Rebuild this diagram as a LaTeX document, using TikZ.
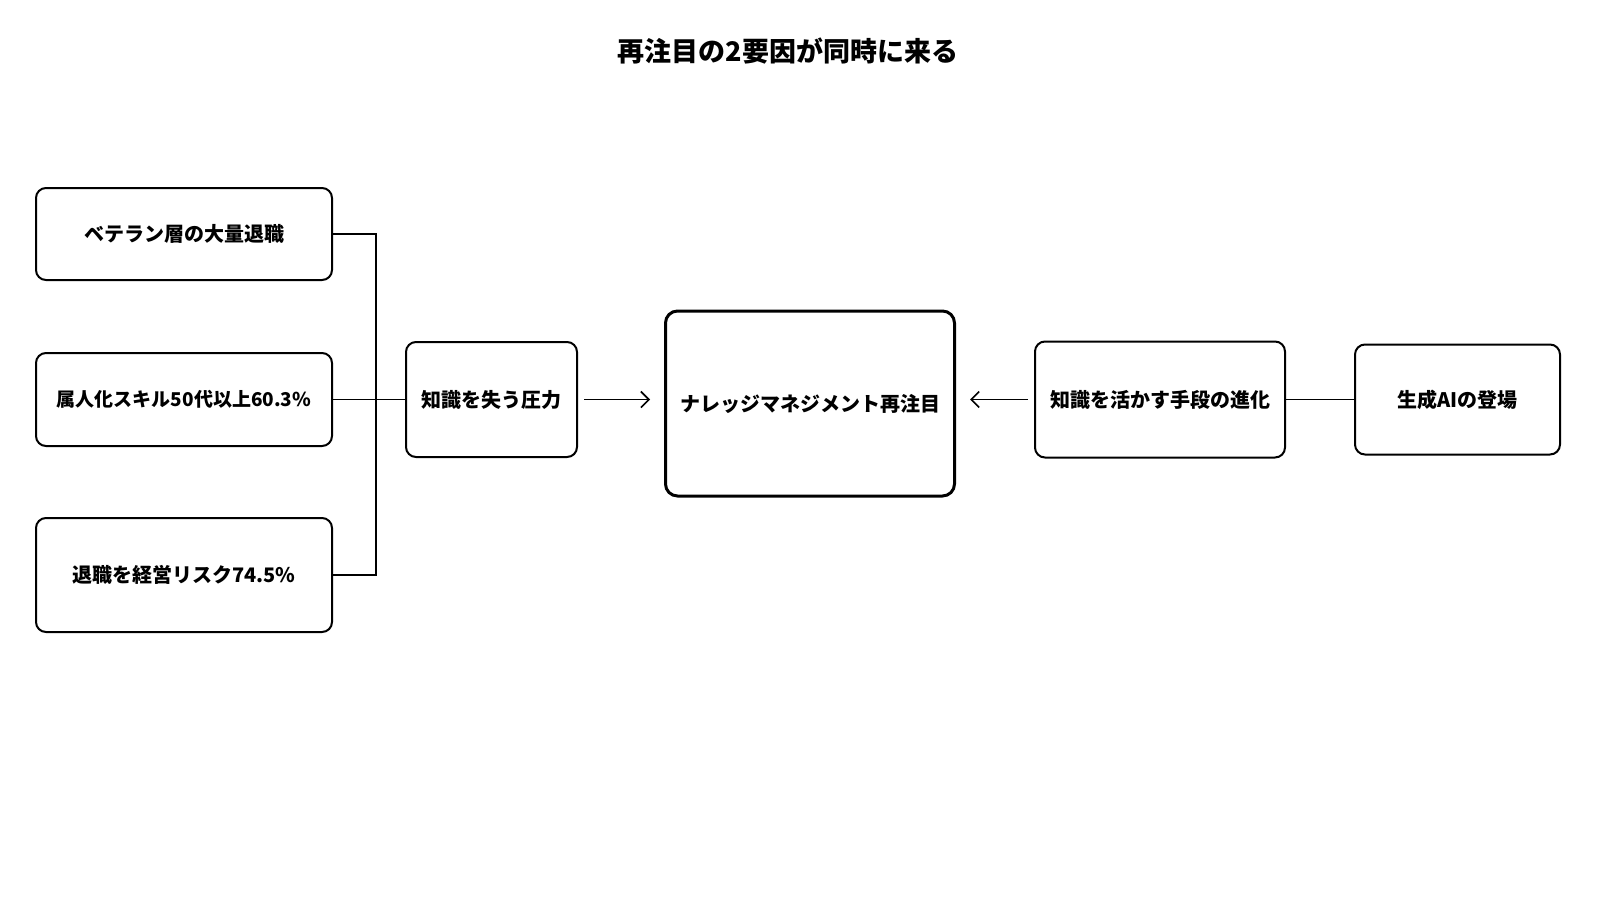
\documentclass[tikz,border=0pt]{standalone}
\usepackage{fontspec}
\setmainfont{Noto Sans CJK JP}
\usepackage{tikz}
\usetikzlibrary{positioning,arrows.meta}

\begin{document}
\begin{tikzpicture}[
    x=0.5pt, y=-0.5pt,
    every node/.style={align=center, font=\bfseries\fontsize{10}{12}\selectfont},
    reason/.style={rectangle, draw=black, line width=1pt, fill=white, rounded corners=5pt, minimum width=148pt},
    pressure/.style={rectangle, draw=black, line width=1pt, fill=white, rounded corners=5pt, minimum width=85.5pt, minimum height=57.5pt},
    focus/.style={rectangle, draw=black, line width=1.5pt, fill=white, rounded corners=6pt, minimum width=144.5pt, minimum height=92.5pt},
    means/.style={rectangle, draw=black, line width=1pt, fill=white, rounded corners=5pt, minimum height=58pt},
    link/.style={line width=0.8pt},
    arrow/.style={-{Straight Barb[length=4pt,width=8pt]}, line width=0.8pt, shorten <=3pt, shorten >=7pt}
]
\fill[white] (0,0) rectangle (1600,900);

% Title
\node[font=\bfseries\fontsize{13.5}{16}\selectfont] (title) at (788,51) {再注目の2要因が同時に来る};

% Left: reasons for knowledge loss
\node[reason, minimum height=46pt] (veteran) at (184,234) {ベテラン層の大量退職};
\node[reason, minimum height=46.5pt, below=35.5pt of veteran, font=\bfseries\fontsize{9.5}{12}\selectfont] (skill) {属人化スキル50代以上60.3\%};
\node[reason, minimum height=57pt, below=35pt of skill] (retire) {退職を経営リスク74.5\%};

% Middle row
\node[pressure, right=36pt of skill] (loss) {知識を失う圧力};
\node[focus, right=43pt of loss, yshift=-2pt] (km) {ナレッジマネジメント再注目};
\node[means, minimum width=125pt, right=39pt of km, yshift=2pt] (evolve) {知識を活かす手段の進化};
\node[means, minimum width=102.5pt, minimum height=55pt, right=34pt of evolve] (genai) {生成AIの登場};

% Connectors
\coordinate[right=21.5pt of skill.east] (jn);
\draw[link] (veteran.east) -| (jn) |- (retire.east);
\draw[link] (skill.east) -- (loss.west);
\draw[link] (evolve.east) -- (genai.west);

\draw[arrow] (loss.east) -- (loss.east -| km.west);
\draw[arrow] (evolve.west) -- (evolve.west -| km.east);

\end{tikzpicture}
\end{document}
